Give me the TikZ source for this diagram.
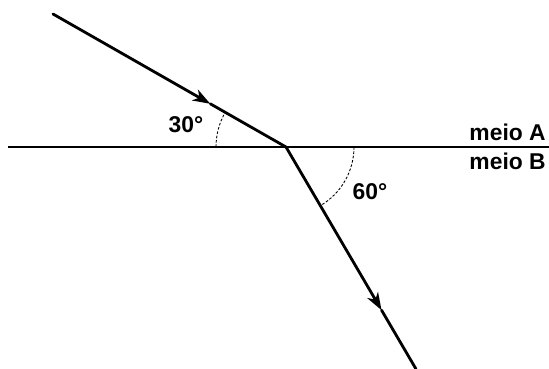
\documentclass[tikz,border=0pt]{standalone}
\usepackage{fontspec}
\setmainfont{Liberation Sans}
\usetikzlibrary{arrows.meta, calc}

\begin{document}
\begin{tikzpicture}[x=0.02cm, y=0.02cm,
    ray/.style={line width=1.6pt, line cap=round},
    rayarrow/.style={ray, -{Stealth[length=10pt, width=7pt, inset=3pt]}},
    angarc/.style={line width=0.5pt, dash pattern=on 1.5pt off 1pt},
    lbl/.style={font=\fontsize{13}{15}\selectfont\bfseries, inner sep=0pt}]
    \useasboundingbox (0,0) rectangle (549,-369);

    % superficie de separacao
    \coordinate (ifaceL) at (8,-147);
    \coordinate (ifaceR) at (549,-147);
    \draw[line width=0.8pt] (ifaceL) -- (ifaceR);

    % raio incidente
    \coordinate (src) at (53,-14);
    \coordinate (hit) at (286,-147);
    \coordinate (tipA) at ($(src)!0.675!(hit)$);
    \draw[rayarrow] (src) -- (tipA);
    \draw[ray] (tipA) -- (hit);

    % raio refratado
    \coordinate (out) at (416,-369);
    \coordinate (tipB) at ($(hit)!0.735!(out)$);
    \draw[rayarrow] (hit) -- (tipB);
    \draw[ray] (tipB) -- (out);

    % angulos
    \draw[angarc] ($(hit)+(-70,0)$) arc[start angle=180, end angle=150.3, radius=1.4cm];
    \draw[angarc] ($(hit)+(68,0)$) arc[start angle=0, end angle=-59.6, radius=1.36cm];
    \node[lbl] (angA) at (186,-125) {30°};
    \node[lbl] (angB) at (370,-192) {60°};

    % meios
    \node[lbl, anchor=base east] (meioA) at (546,-140) {meio A};
    \node[lbl, anchor=base east] (meioB) at (546,-169) {meio B};
\end{tikzpicture}
\end{document}
